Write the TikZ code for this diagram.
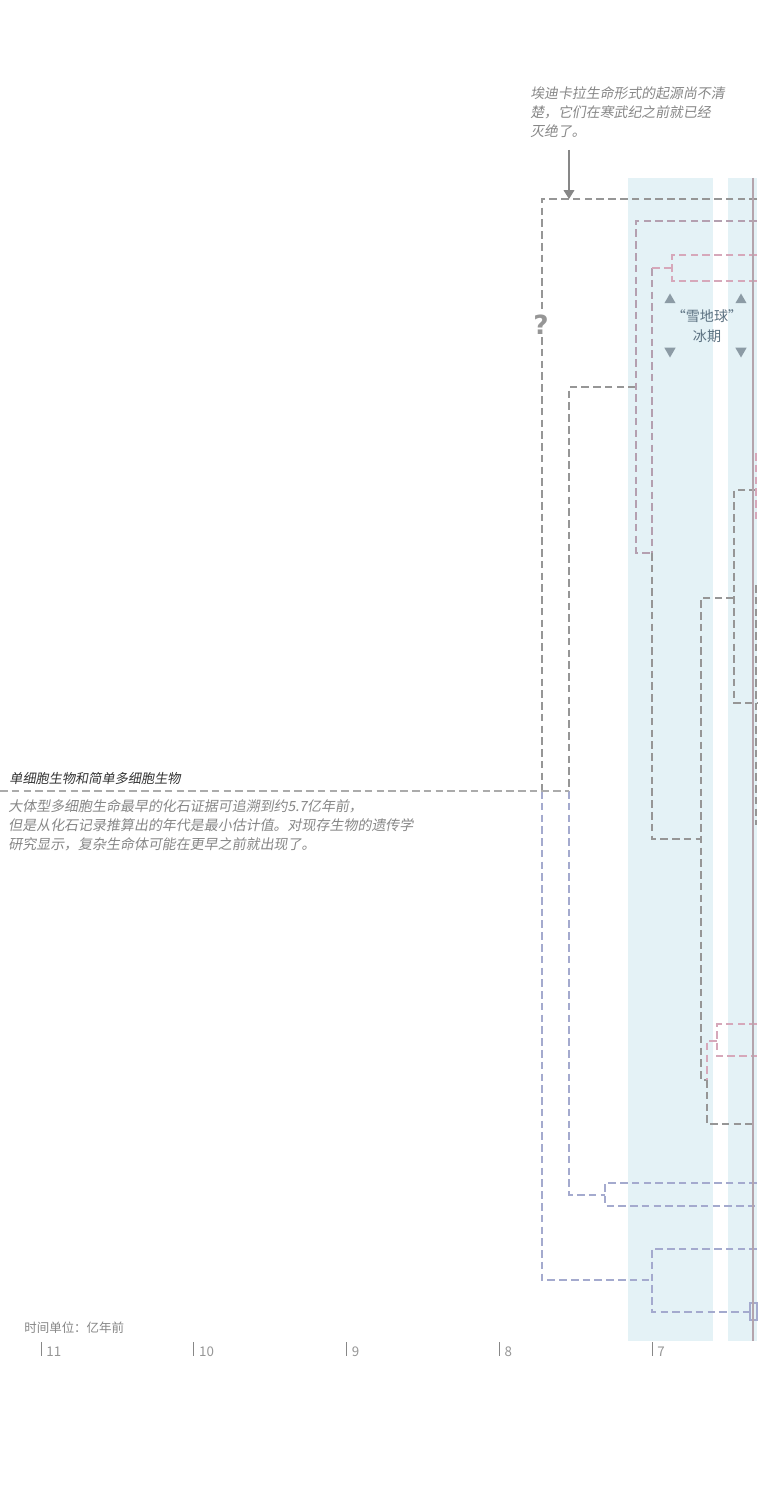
\documentclass[tikz,border=0pt]{standalone}
\usepackage{fontspec}
\usetikzlibrary{calc, arrows.meta, shapes.geometric}
\newfontfamily\cjk{Noto Sans CJK SC}
\newfontfamily\cjkit[FakeSlant=0.18]{Noto Sans CJK SC}
\newfontfamily\qfont{DejaVu Sans}
\definecolor{bandBlue}{RGB}{228,242,246}
\definecolor{lineGray}{RGB}{150,150,150}
\definecolor{linePink}{RGB}{214,168,186}
\definecolor{lineBlue}{RGB}{164,170,206}
\definecolor{lineMauve}{RGB}{180,160,176}
\definecolor{axisLine}{RGB}{180,164,172}
\definecolor{noteGray}{RGB}{135,135,135}
\definecolor{snowText}{RGB}{90,112,128}
\definecolor{snowTri}{RGB}{140,155,165}

\begin{document}
\begin{tikzpicture}[x=0.02cm, y=-0.02cm, >=Stealth,
  clade/.style={dash pattern=on 4.3pt off 2.4pt, line width=0.65pt},
  note/.style={inner sep=0pt, align=left, text=noteGray, font=\cjkit\fontsize{7.95}{11}\selectfont},
  tick/.style={line width=0.5pt, draw=noteGray},
  ticklabel/.style={inner sep=0pt, anchor=west, text=lineGray, font=\cjk\fontsize{7.6}{8}\selectfont},
  snowup/.style={regular polygon, regular polygon sides=3, minimum size=7.4pt, inner sep=0pt, fill=snowTri},
  snowdown/.style={snowup, shape border rotate=180}]
  \useasboundingbox (0,0) rectangle (757,1500);
  \fill[white] (0,0) rectangle (757,1500);

  % ice-age bands
  \fill[bandBlue] (628,178) rectangle (713,1341);
  \fill[bandBlue] (728,178) rectangle (757,1341);

  % branch points
  \coordinate (edge) at (757,0);
  \coordinate (lead) at (0,791);
  \coordinate (A1) at (542,199);  \coordinate (A2) at (542,1280);
  \coordinate (B1) at (569,387);  \coordinate (B2) at (569,1195);
  \coordinate (C1) at (636,221);  \coordinate (C2) at (636,553);
  \coordinate (D1) at (652,268);  \coordinate (D2) at (652,839);
  \coordinate (E1) at (672,255);  \coordinate (E2) at (672,281);
  \coordinate (F1) at (701,598);  \coordinate (F2) at (701,1080);
  \coordinate (G1) at (734,490);  \coordinate (G2) at (734,703);
  \coordinate (H1) at (707,1041); \coordinate (H2) at (707,1124);
  \coordinate (I1) at (717,1024); \coordinate (I2) at (717,1056);
  \coordinate (J1) at (605,1183); \coordinate (J2) at (605,1206);
  \coordinate (K1) at (652,1249); \coordinate (K2) at (652,1312);
  \coordinate (box) at (750,1303);

  % the tree
  \draw[clade, lineGray] (A1 -| edge) -- (A1) -- (A1 |- lead);
  \draw[clade, lineBlue] (A1 |- lead) -- (A2) -- (A2 -| K1);
  \draw[clade, lineGray] (B1 -| C1) -- (B1) -- (B1 |- lead);
  \draw[clade, lineBlue] (B1 |- lead) -- (B2) -- (B2 -| J1);
  \draw[clade, lineMauve] (C1 -| edge) -- (C1) -- (C2) -- (C2 -| D1);
  \draw[clade, lineMauve] (D1) -- (D1 |- C2);
  \draw[clade, lineGray] (D1 |- C2) -- (D2) -- (D2 -| F1);
  \draw[clade, linePink] (D1) -- (D1 -| E1);
  \draw[clade, linePink] (E1 -| edge) -- (E1) -- (E2) -- (E2 -| edge);
  \draw[clade, lineGray] (F1 -| G1) -- (F1) -- (F2) -- (F2 -| H1);
  \draw[clade, lineGray] (G1 -| edge) -- (G1) -- (G2) -- (G2 -| edge);
  \draw[clade, linePink] (H1 -| I1) -- (H1) -- (H1 |- F2);
  \draw[clade, lineGray] (H1 |- F2) -- (H2) -- (H2 -| edge);
  \draw[clade, linePink] (I1 -| edge) -- (I1) -- (I2) -- (I2 -| edge);
  \draw[clade, lineBlue] (J1 -| edge) -- (J1) -- (J2) -- (J2 -| edge);
  \draw[clade, lineBlue] (K1 -| edge) -- (K1) -- (K2) -- (K2 -| box);
  \draw[lineBlue, line width=0.6pt] (box) rectangle (757,1320);
  \draw[clade, linePink] (756,453) -- (756,523);
  \draw[clade, lineGray] (756,585) -- (756,825);

  % time line through the right band
  \draw[axisLine, line width=0.6pt] (753,178) -- (753,1341);

  % question mark on the stem
  \node[fill=white, inner sep=1pt, text=lineGray, font=\qfont\bfseries\fontsize{15}{15}\selectfont]
    (qmark) at (541,325) {?};

  % lead line to the left note
  \draw[clade, lineGray!80] (lead) -- (lead -| B1);
  \node[inner sep=0pt, anchor=south west, text=black!80, font=\cjkit\fontsize{7.5}{9}\selectfont]
    (single) at (9,785) {单细胞生物和简单多细胞生物};
  \node[note, anchor=north west] (fossil) at (8,799)
    {大体型多细胞生命最早的化石证据可追溯到约5.7亿年前，\\
     但是从化石记录推算出的年代是最小估计值。对现存生物的遗传学\\
     研究显示，复杂生命体可能在更早之前就出现了。};

  % Ediacara note
  \node[note, anchor=north west, font=\cjkit\fontsize{7.9}{10.8}\selectfont] (ediac) at (530,86)
    {埃迪卡拉生命形式的起源尚不清\\
     楚，它们在寒武纪之前就已经\\
     灭绝了。};
  \coordinate (arrowtop) at (569,150);
  \draw[-{Triangle[length=5pt, width=6pt]}, lineGray!90!black, line width=0.9pt]
    (arrowtop) -- (arrowtop |- A1);

  % snowball earth
  \node[snowup] (s1) at (670,300) {};
  \node[snowup] (s2) at (741,300) {};
  \node[snowdown] (s3) at (670,351) {};
  \node[snowdown] (s4) at (741,351) {};
  \node[inner sep=0pt, align=center, text=snowText, font=\cjk\fontsize{8}{11}\selectfont]
    (snow) at (707,326) {“雪地球”\\冰期};

  % time axis
  \node[inner sep=0pt, anchor=west, text=noteGray, font=\cjk\fontsize{7.1}{8}\selectfont]
    (unit) at (24,1328) {时间单位：亿年前};
  \foreach \lab [count=\i from 0] in {11,10,9,8,7} {
    \coordinate (t\i) at ({41+152.75*\i},1342);
    \draw[tick] (t\i) -- ++(0,14);
    \node[ticklabel] (tl\i) at ($(t\i)+(5,10)$) {\lab};
  }
\end{tikzpicture}
\end{document}
